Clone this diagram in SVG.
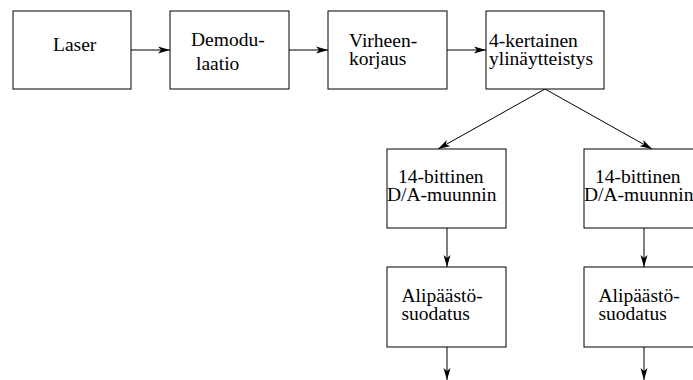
<svg xmlns="http://www.w3.org/2000/svg" width="693" height="380" viewBox="0 0 693 380" font-family="'Liberation Serif', 'Times New Roman', Times, serif" font-size="19.5">
  <style>
    .box { fill: #fff; stroke: #000; stroke-width: 1; }
    .lbl { font-family: 'Liberation Serif', 'Times New Roman', Times, serif; font-size: 19.5px; fill: #000; }
    .wire { stroke: #000; stroke-width: 1; fill: none; marker-end: url(#head); }
  </style>
  <defs>
    <marker id="head" viewBox="0 0 12 8" refX="12" refY="4" markerWidth="12" markerHeight="8" markerUnits="userSpaceOnUse" orient="auto">
      <path d="M0,0.5 L12,4 L0,7.5 L3,4 Z" fill="#000"/>
    </marker>
  </defs>
  <rect width="693" height="380" fill="#fff"/>

  <g id="connectors">
    <line class="wire" x1="131" y1="50" x2="170" y2="50"/>
    <line class="wire" x1="289" y1="50" x2="328" y2="50"/>
    <line class="wire" x1="447" y1="50" x2="486" y2="50"/>
    <line class="wire" x1="545" y1="89" x2="438" y2="149"/>
    <line class="wire" x1="545" y1="89" x2="652" y2="149"/>
    <line class="wire" x1="447" y1="228" x2="447" y2="267"/>
    <line class="wire" x1="644" y1="228" x2="644" y2="267"/>
    <line class="wire" x1="447" y1="347" x2="447" y2="380"/>
    <line class="wire" x1="644" y1="347" x2="644" y2="380"/>
  </g>

  <g id="laser">
    <rect class="box" x="13" y="11" width="118" height="78"/>
    <text class="lbl" x="53" y="51">Laser</text>
  </g>
  <g id="demodulaatio">
    <rect class="box" x="170" y="11" width="119" height="78"/>
    <text class="lbl" x="191" y="46">Demodu-</text>
    <text class="lbl" x="196" y="70">laatio</text>
  </g>
  <g id="virheenkorjaus">
    <rect class="box" x="328" y="11" width="119" height="78"/>
    <text class="lbl" x="349" y="46.5">Virheen-</text>
    <text class="lbl" x="349" y="64.5">korjaus</text>
  </g>
  <g id="ylinaytteistys">
    <rect class="box" x="486" y="11" width="118" height="78"/>
    <text class="lbl" x="489" y="46.5">4-kertainen</text>
    <text class="lbl" x="489" y="64.5">ylinäytteistys</text>
  </g>
  <g id="da-left">
    <rect class="box" x="387" y="149" width="119" height="79"/>
    <text class="lbl" x="398" y="183">14-bittinen</text>
    <text class="lbl" x="387" y="201">D/A-muunnin</text>
  </g>
  <g id="da-right">
    <rect class="box" x="584" y="149" width="119" height="79"/>
    <text class="lbl" x="595" y="183">14-bittinen</text>
    <text class="lbl" x="584" y="201">D/A-muunnin</text>
  </g>
  <g id="lp-left">
    <rect class="box" x="387" y="267" width="119" height="80"/>
    <text class="lbl" x="401.5" y="302">Alipäästö-</text>
    <text class="lbl" x="401.5" y="320">suodatus</text>
  </g>
  <g id="lp-right">
    <rect class="box" x="584" y="267" width="119" height="80"/>
    <text class="lbl" x="598.5" y="302">Alipäästö-</text>
    <text class="lbl" x="598.5" y="320">suodatus</text>
  </g>
</svg>
